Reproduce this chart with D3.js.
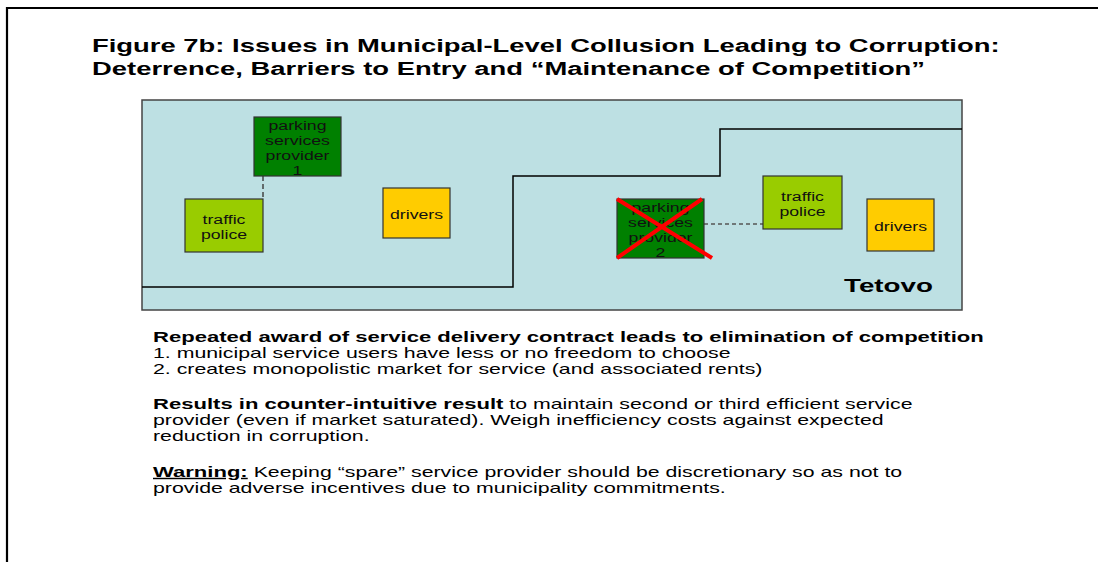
<!DOCTYPE html>
<html>
<head>
<meta charset="utf-8">
<script src="https://cdn.jsdelivr.net/npm/d3@7"></script>
<style>
  body { margin: 0; background: #fff; }
  svg { display: block; font-family: "Liberation Sans", Arial, sans-serif; }
</style>
</head>
<body>
<div id="chart"></div>
<script>
// ---- data ----
var titleLines = [
  "Figure 7b: Issues in Municipal-Level Collusion Leading to Corruption:",
  "Deterrence, Barriers to Entry and \u201cMaintenance of Competition\u201d"
];

var actorIds = ["psp1", "tp1", "drv1", "psp2", "tp2", "drv2"];
var actorLabels = [
  ["parking", "services", "provider", "1"],
  ["traffic", "police"],
  ["drivers"],
  ["parking", "services", "provider", "2"],
  ["traffic", "police"],
  ["drivers"]
];
var actorKinds = ["provider", "police", "drivers", "provider", "police", "drivers"];
var eliminated = ["psp2"];
var townName = "Tetovo";

var paragraphs = [
  [
    [{t: "Repeated award of service delivery contract leads to elimination of competition", b: true}],
    [{t: "1. municipal service users have less or no freedom to choose"}],
    [{t: "2. creates monopolistic market for service (and associated rents)"}]
  ],
  [
    [{t: "Results in counter-intuitive result", b: true}, {t: " to maintain second or third efficient service"}],
    [{t: "provider (even if market saturated). Weigh inefficiency costs against expected"}],
    [{t: "reduction in corruption."}]
  ],
  [
    [{t: "Warning:", b: true, u: true}, {t: " Keeping \u201cspare\u201d service provider should be discretionary so as not to"}],
    [{t: "provide adverse incentives due to municipality commitments."}]
  ]
];

// ---- layout ----
var W = 1098, H = 562;
var kindColor = {provider: "#008000", police: "#99cc00", drivers: "#ffcc00"};

// diagram space: units are pixels inside the light blue panel
var panel = {x: 142, y: 100, w: 820, h: 210};
var px = d3.scaleLinear().domain([0, panel.w]).range([panel.x, panel.x + panel.w]);
var py = d3.scaleLinear().domain([0, panel.h]).range([panel.y, panel.y + panel.h]);

var nodePos = {
  psp1: {x: 112, y: 17, w: 87, h: 59},
  tp1:  {x: 43,  y: 99, w: 78, h: 53},
  drv1: {x: 241, y: 88, w: 67, h: 50},
  psp2: {x: 475, y: 99, w: 87, h: 59},
  tp2:  {x: 621, y: 76, w: 79, h: 53},
  drv2: {x: 725, y: 99, w: 67, h: 52}
};
var boundary = [[0, 187], [371, 187], [371, 76], [578, 76], [578, 29], [820, 29]];

var svg = d3.select("#chart").append("svg")
  .attr("width", W).attr("height", H);

svg.append("rect").attr("width", W).attr("height", H).attr("fill", "#fff");

// page frame (top and left edge)
svg.append("path")
  .attr("d", "M7," + H + "V8H" + W)
  .attr("fill", "none")
  .attr("stroke", "#000")
  .attr("stroke-width", 2.2);

// title
var titleG = svg.append("g");
var titleText = titleG.selectAll("text")
  .data(titleLines)
  .enter().append("text")
  .attr("x", 0)
  .attr("y", function(d, i) { return 52 + i * 23; })
  .attr("font-size", 19)
  .attr("font-weight", "bold")
  .attr("fill", "#000")
  .text(function(d) { return d; });
var titleSx = 908 / titleText.node().getComputedTextLength();
titleG.attr("transform", "translate(92,0) scale(" + titleSx + ",1)");

// panel
svg.append("rect")
  .attr("x", px(0)).attr("y", py(0))
  .attr("width", px(panel.w) - px(0)).attr("height", py(panel.h) - py(0))
  .attr("fill", "#bde0e3")
  .attr("stroke", "#444")
  .attr("stroke-width", 1.5);

var line = d3.line().x(function(d) { return px(d[0]); }).y(function(d) { return py(d[1]); });
svg.append("path")
  .attr("d", line(boundary))
  .attr("fill", "none")
  .attr("stroke", "#000")
  .attr("stroke-width", 1.5);

// body text
var bodyG = svg.append("g");
var blockTop = [342, 409, 477];
var lineH = 16;
var refLine = null;
paragraphs.forEach(function(par, pi) {
  par.forEach(function(segs, li) {
    var t = bodyG.append("text")
      .attr("x", 0)
      .attr("y", blockTop[pi] + li * lineH)
      .attr("font-size", 14)
      .attr("fill", "#000")
      .attr("xml:space", "preserve");
    t.selectAll("tspan")
      .data(segs)
      .enter().append("tspan")
      .attr("font-weight", function(d) { return d.b ? "bold" : null; })
      .attr("font-size", function(d) { return d.b ? 14.5 : null; })
      .attr("text-decoration", function(d) { return d.u ? "underline" : null; })
      .text(function(d) { return d.t; });
    if (pi === 1 && li === 1) refLine = t;
  });
});
// stretch measured on a plain line ("provider (even if ... expected")
var bodySx = 731 / refLine.node().getComputedTextLength();
bodyG.attr("transform", "translate(153,0) scale(" + bodySx + ",1)");
var boxSx = bodySx * 0.86;

// dashed links between actors
svg.append("line")
  .attr("x1", px(nodePos.tp1.x + nodePos.tp1.w)).attr("x2", px(nodePos.tp1.x + nodePos.tp1.w))
  .attr("y1", py(nodePos.psp1.y + nodePos.psp1.h)).attr("y2", py(nodePos.tp1.y))
  .attr("stroke", "#444").attr("stroke-width", 1.5).attr("stroke-dasharray", "5,3");
svg.append("line")
  .attr("x1", px(nodePos.psp2.x + nodePos.psp2.w)).attr("x2", px(nodePos.tp2.x))
  .attr("y1", py(124)).attr("y2", py(124))
  .attr("stroke", "#555").attr("stroke-width", 1.5).attr("stroke-dasharray", "4,3");

// actor boxes
var node = svg.selectAll(".node")
  .data(actorIds)
  .enter().append("g")
  .attr("class", "node");

node.append("rect")
  .attr("x", function(d) { return px(nodePos[d].x); })
  .attr("y", function(d) { return py(nodePos[d].y); })
  .attr("width", function(d) { return nodePos[d].w; })
  .attr("height", function(d) { return nodePos[d].h; })
  .attr("fill", function(d, i) { return kindColor[actorKinds[i]]; })
  .attr("stroke", "#333")
  .attr("stroke-width", 1.2);

node.each(function(d, i) {
  var p = nodePos[d];
  var lab = actorLabels[i];
  var g = d3.select(this).append("g")
    .attr("transform", "translate(" + px(p.x + p.w / 2) + "," + py(p.y + p.h / 2 + 1) + ") scale(" + boxSx + ",1)");
  g.selectAll("text")
    .data(lab)
    .enter().append("text")
    .attr("x", 0)
    .attr("y", function(t, k) { return (k - (lab.length - 1) / 2) * 15 + 5; })
    .attr("text-anchor", "middle")
    .attr("font-size", 13.5)
    .attr("fill", "#111")
    .text(function(t) { return t; });
});

// red cross over the eliminated provider
eliminated.forEach(function(id) {
  var p = nodePos[id];
  svg.append("line")
    .attr("x1", px(p.x)).attr("y1", py(p.y))
    .attr("x2", px(p.x + p.w + 8)).attr("y2", py(p.y + p.h))
    .attr("stroke", "#ff0000").attr("stroke-width", 4);
  svg.append("line")
    .attr("x1", px(p.x)).attr("y1", py(p.y + p.h))
    .attr("x2", px(p.x + p.w - 2)).attr("y2", py(p.y))
    .attr("stroke", "#ff0000").attr("stroke-width", 4);
});

// town label
var townG = svg.append("g");
var townText = townG.append("text")
  .attr("font-size", 18)
  .attr("font-weight", "bold")
  .attr("fill", "#000")
  .text(townName);
var townSx = 89 / townText.node().getComputedTextLength();
townG.attr("transform", "translate(" + px(702) + "," + py(192) + ") scale(" + townSx + ",1)");
</script>
</body>
</html>
